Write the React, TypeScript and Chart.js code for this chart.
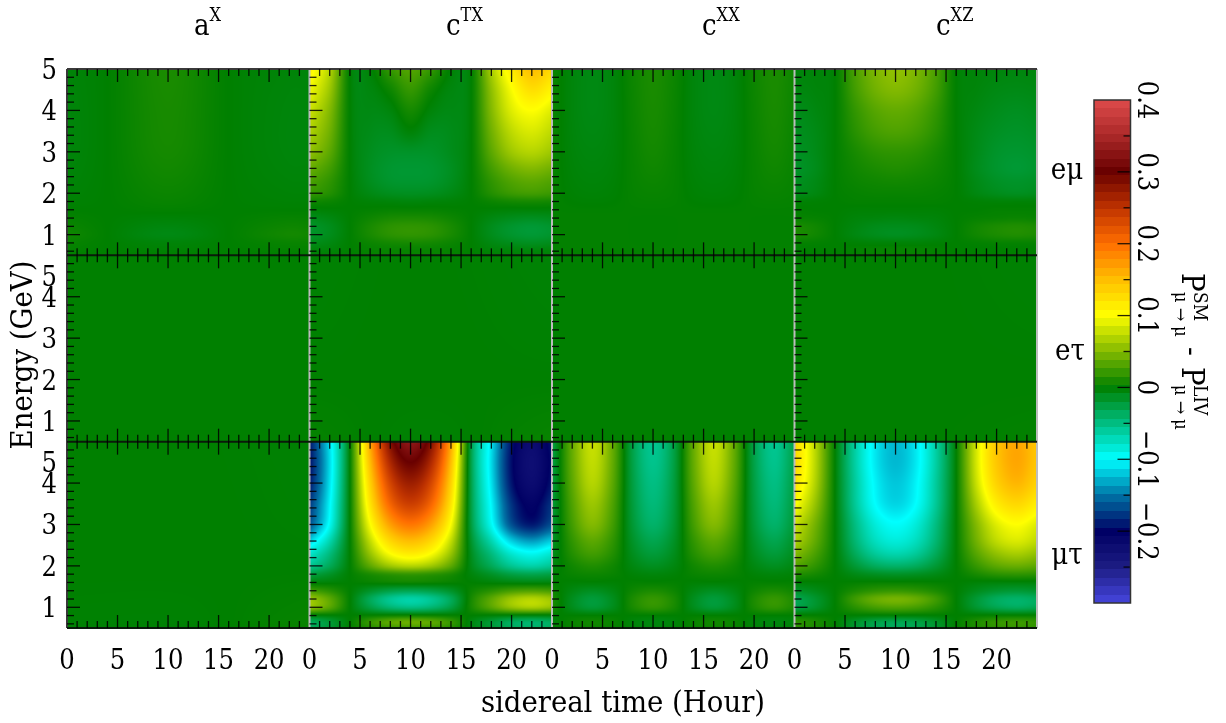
import React, { useEffect, useRef } from "react";
import { Chart, registerables } from "chart.js";

Chart.register(...registerables);

const FONT = '"DejaVu Serif Condensed", "DejaVu Serif", serif';

const COLUMN_TITLES = [["a", "X"], ["c", "TX"], ["c", "XX"], ["c", "XZ"]];
const ROW_TITLES = ["eμ", "eτ", "μτ"];
const X_MAJOR = [5, 10, 15, 20];
const X_LABELS = [0, 5, 10, 15, 20];
const X_MINOR = [1, 2, 3, 4, 6, 7, 8, 9, 11, 12, 13, 14, 16, 17, 18, 19, 21, 22, 23];
const Y_MAJOR = [1, 2, 3, 4];
const Y_MINOR = [0.6, 0.8, 1.2, 1.4, 1.6, 1.8, 2.2, 2.4, 2.6, 2.8, 3.2, 3.4, 3.6, 3.8, 4.2, 4.4, 4.6, 4.8];
const Y_LABELS_TOP = [1, 2, 3, 4, 5];
const Y_LABELS_LOWER = [1, 2, 3, 4, 4.5];

const TIME = [0, 2, 4, 6, 8, 10, 12, 14, 16, 18, 20, 22, 24];
const ENERGY = [0.5, 0.65, 0.8, 1, 1.2, 1.4, 1.6, 1.8, 2, 2.3, 2.6, 3, 3.5, 4, 4.5, 5];
const TIME_COARSE = [0, 4, 10, 16, 22, 24];
const ENERGY_COARSE = [0.5, 0.8, 1, 1.2, 1.6, 2, 3, 4, 5];
const ENERGY_XX = [0.5, 1.5, 2, 3, 4, 5];
const TIME_FLAT = [0, 12, 24];
const ENERGY_FLAT = [0.5, 2, 5];

const aX_emu = [
  [0, 0, 0, 0, 0, 0],
  [0.003, 0, -0.003, 0, 0.003, 0.003],
  [0.006, 0, -0.007, 0, 0.007, 0.006],
  [0.004, 0, -0.005, 0, 0.005, 0.004],
  [0, 0, 0.001, 0, 0, 0],
  [-0.002, 0, 0.004, 0, -0.002, -0.002],
  [-0.004, 0, 0.008, 0, -0.004, -0.004],
  [-0.004, 0, 0.009, 0, -0.004, -0.004],
  [-0.003, 0, 0.01, 0, -0.003, -0.003],
];
const cTX_emu = [
  [-0.002, -0.001, 0, 0.002, 0.003, 0.003, 0.003, 0.002, 0, -0.001, -0.002, -0.002, -0.002],
  [-0.004, -0.003, 0, 0.002, 0.003, 0.003, 0.003, 0.002, 0, -0.003, -0.004, -0.005, -0.004],
  [-0.01, -0.006, 0, 0.004, 0.007, 0.008, 0.007, 0.004, 0, -0.006, -0.01, -0.012, -0.01],
  [-0.016, -0.01, 0, 0.009, 0.016, 0.018, 0.016, 0.009, 0, -0.01, -0.017, -0.02, -0.017],
  [-0.016, -0.01, 0, 0.009, 0.016, 0.018, 0.016, 0.009, 0, -0.01, -0.017, -0.02, -0.017],
  [-0.01, -0.006, 0, 0.005, 0.009, 0.01, 0.009, 0.005, 0, -0.006, -0.01, -0.012, -0.01],
  [-0.002, -0.001, 0, 0.001, 0.002, 0.002, 0.002, 0.001, 0, -0.001, -0.002, -0.002, -0.002],
  [0.006, 0.004, 0, -0.002, -0.003, -0.004, -0.003, -0.002, 0, 0.004, 0.007, 0.008, 0.007],
  [0.02, 0.013, 0, -0.007, -0.011, -0.012, -0.011, -0.007, 0, 0.013, 0.022, 0.025, 0.022],
  [0.029, 0.018, 0, -0.011, -0.017, -0.018, -0.017, -0.011, 0, 0.018, 0.031, 0.036, 0.031],
  [0.04, 0.025, 0, -0.012, -0.018, -0.019, -0.018, -0.012, 0, 0.025, 0.043, 0.05, 0.043],
  [0.056, 0.035, 0, -0.011, -0.015, -0.015, -0.015, -0.01, 0, 0.035, 0.061, 0.07, 0.061],
  [0.068, 0.043, 0, -0.009, -0.01, -0.002, -0.01, -0.009, 0, 0.043, 0.074, 0.085, 0.074],
  [0.08, 0.05, 0, -0.007, -0.004, 0.008, -0.003, -0.007, 0, 0.05, 0.087, 0.1, 0.087],
  [0.095, 0.06, 0, -0.005, 0.005, 0.02, 0.005, -0.005, 0, 0.055, 0.098, 0.125, 0.108],
  [0.11, 0.07, 0, -0.002, 0.02, 0.032, 0.02, -0.001, 0, 0.065, 0.115, 0.15, 0.13],
];
const cXX_emu = [
  [0.001, 0.001, 0.001, 0.001, 0.001, 0.001, 0.001, 0.001, 0.001, 0.001, 0.001, 0.001, 0.001],
  [0.001, 0.001, 0.001, 0.001, 0.001, 0.001, 0.001, 0.001, 0.001, 0.001, 0.001, 0.001, 0.001],
  [0.002, -0.001, -0.002, -0.001, 0.002, 0.003, 0.002, -0.001, -0.002, -0.001, 0.002, 0.003, 0.002],
  [0.003, -0.003, -0.005, -0.003, 0.003, 0.007, 0.003, -0.003, -0.005, -0.003, 0.003, 0.007, 0.003],
  [0.004, -0.004, -0.007, -0.004, 0.004, 0.009, 0.004, -0.004, -0.007, -0.004, 0.004, 0.009, 0.004],
  [0.004, -0.004, -0.007, -0.004, 0.005, 0.01, 0.005, -0.004, -0.007, -0.004, 0.005, 0.01, 0.005],
];
const cXZ_emu = [
  [0, 0, 0, 0.001, 0.002, 0.002, 0.002, 0.001, 0, 0, 0, 0, 0],
  [0, 0, 0, 0.001, 0.002, 0.002, 0.002, 0.001, 0, 0, 0, 0, 0],
  [0.002, 0.001, 0, -0.001, -0.002, -0.002, -0.002, -0.001, 0, 0.001, 0.002, 0.002, 0.002],
  [0.01, 0.006, 0, -0.006, -0.01, -0.012, -0.01, -0.006, 0, 0.006, 0.01, 0.012, 0.01],
  [0.01, 0.006, 0, -0.005, -0.009, -0.01, -0.009, -0.005, 0, 0.006, 0.01, 0.012, 0.01],
  [0.003, 0.002, 0, -0.003, -0.004, -0.005, -0.004, -0.003, 0, 0.002, 0.003, 0.004, 0.003],
  [0.001, 0, 0, -0.001, -0.001, -0.001, -0.001, -0.001, 0, 0, 0.001, 0.001, 0.001],
  [-0.002, -0.001, 0, 0.001, 0.001, 0.001, 0.001, 0.001, 0, -0.001, -0.002, -0.002, -0.002],
  [-0.01, -0.006, 0, 0.002, 0.003, 0.003, 0.003, 0.002, 0, -0.006, -0.01, -0.012, -0.01],
  [-0.013, -0.008, 0, 0.004, 0.006, 0.007, 0.006, 0.004, 0, -0.008, -0.014, -0.016, -0.014],
  [-0.016, -0.01, 0, 0.006, 0.01, 0.012, 0.01, 0.006, 0, -0.01, -0.017, -0.02, -0.017],
  [-0.014, -0.009, 0, 0.009, 0.016, 0.018, 0.016, 0.009, 0, -0.009, -0.016, -0.018, -0.016],
  [-0.012, -0.008, 0, 0.015, 0.026, 0.03, 0.026, 0.015, 0, -0.008, -0.013, -0.015, -0.013],
  [-0.01, -0.006, 0, 0.019, 0.033, 0.038, 0.033, 0.019, 0, -0.006, -0.01, -0.012, -0.01],
  [-0.006, -0.004, 0, 0.025, 0.043, 0.05, 0.043, 0.025, 0, -0.004, -0.007, -0.008, -0.007],
  [-0.004, -0.003, 0, 0.028, 0.048, 0.056, 0.048, 0.028, 0, -0.003, -0.004, -0.005, -0.004],
];
const aX_etau = [[0, 0, 0], [0, 0, 0], [0, 0, 0]];
const cTX_etau = [[0.002, -0.001, 0.003], [0, 0, 0], [-0.001, 0, -0.002]];
const cXX_etau = [[0, 0, 0], [0, 0, 0], [0, 0, 0]];
const cXZ_etau = [[0, 0, 0.001], [0, 0, 0], [0, 0, -0.001]];
const aX_mutau = [[-0.001, -0.001, 0.003], [0, 0, 0], [0, 0, -0.001]];
const cTX_mutau = [
  [-0.035, -0.02, 0, 0.013, 0.022, 0.025, 0.022, 0.013, -0.005, -0.02, -0.035, -0.04, -0.035],
  [-0.035, -0.02, 0, 0.02, 0.035, 0.04, 0.035, 0.02, -0.005, -0.02, -0.035, -0.04, -0.035],
  [-0.004, -0.002, 0, 0.002, 0.004, 0.005, 0.004, 0.002, 0, -0.002, -0.004, -0.005, -0.004],
  [0.056, 0.033, 0, -0.025, -0.043, -0.05, -0.043, -0.025, 0.008, 0.033, 0.056, 0.065, 0.056],
  [0.06, 0.035, 0, -0.033, -0.056, -0.065, -0.056, -0.033, 0.008, 0.035, 0.06, 0.07, 0.06],
  [0.026, 0.015, 0, -0.015, -0.026, -0.03, -0.026, -0.015, 0.004, 0.015, 0.026, 0.03, 0.026],
  [-0.004, -0.002, 0, 0.002, 0.004, 0.005, 0.004, 0.002, 0, -0.002, -0.004, -0.005, -0.004],
  [-0.026, -0.015, 0, 0.01, 0.017, 0.02, 0.017, 0.01, -0.004, -0.015, -0.026, -0.03, -0.026],
  [-0.056, -0.033, 0, 0.035, 0.061, 0.07, 0.061, 0.035, -0.008, -0.033, -0.056, -0.065, -0.056],
  [-0.082, -0.048, 0, 0.058, 0.1, 0.115, 0.1, 0.058, -0.011, -0.048, -0.082, -0.095, -0.082],
  [-0.117, -0.068, 0, 0.075, 0.13, 0.15, 0.13, 0.075, -0.016, -0.068, -0.117, -0.135, -0.117],
  [-0.165, -0.095, 0, 0.098, 0.169, 0.195, 0.169, 0.098, -0.023, -0.095, -0.165, -0.19, -0.165],
  [-0.178, -0.103, 0, 0.12, 0.208, 0.24, 0.208, 0.12, -0.025, -0.103, -0.178, -0.205, -0.178],
  [-0.191, -0.11, 0, 0.135, 0.234, 0.27, 0.234, 0.135, -0.026, -0.11, -0.191, -0.22, -0.191],
  [-0.195, -0.113, 0, 0.15, 0.26, 0.3, 0.26, 0.15, -0.027, -0.113, -0.195, -0.225, -0.195],
  [-0.191, -0.11, 0, 0.165, 0.286, 0.33, 0.286, 0.165, -0.026, -0.11, -0.191, -0.22, -0.191],
];
const cXX_mutau = [
  [-0.002, 0.002, 0.004, 0.002, -0.002, -0.004, -0.002, 0.002, 0.004, 0.002, -0.002, -0.004, -0.002],
  [-0.003, 0.003, 0.006, 0.003, -0.003, -0.005, -0.003, 0.003, 0.006, 0.003, -0.003, -0.005, -0.003],
  [0, 0, 0, 0, 0, 0, 0, 0, 0, 0, 0, 0, 0],
  [0.009, -0.01, -0.02, -0.01, 0.009, 0.018, 0.009, -0.01, -0.02, -0.01, 0.009, 0.018, 0.009],
  [0.01, -0.011, -0.022, -0.011, 0.01, 0.02, 0.01, -0.011, -0.022, -0.011, 0.01, 0.02, 0.01],
  [0.005, -0.006, -0.012, -0.006, 0.005, 0.01, 0.005, -0.006, -0.012, -0.006, 0.005, 0.01, 0.005],
  [0.001, -0.001, -0.001, -0.001, 0.001, 0.001, 0.001, -0.001, -0.001, -0.001, 0.001, 0.001, 0.001],
  [-0.002, 0.003, 0.005, 0.003, -0.002, -0.004, -0.002, 0.003, 0.005, 0.003, -0.002, -0.004, -0.002],
  [-0.006, 0.006, 0.012, 0.006, -0.006, -0.012, -0.006, 0.006, 0.012, 0.006, -0.006, -0.012, -0.006],
  [-0.011, 0.013, 0.025, 0.013, -0.011, -0.022, -0.011, 0.013, 0.025, 0.013, -0.011, -0.022, -0.011],
  [-0.015, 0.018, 0.035, 0.018, -0.015, -0.03, -0.015, 0.018, 0.035, 0.018, -0.015, -0.03, -0.015],
  [-0.02, 0.025, 0.05, 0.025, -0.02, -0.04, -0.02, 0.025, 0.05, 0.025, -0.02, -0.04, -0.02],
  [-0.023, 0.03, 0.06, 0.03, -0.023, -0.046, -0.023, 0.03, 0.06, 0.03, -0.023, -0.046, -0.023],
  [-0.025, 0.035, 0.07, 0.035, -0.025, -0.05, -0.025, 0.035, 0.07, 0.035, -0.025, -0.05, -0.025],
  [-0.027, 0.038, 0.075, 0.038, -0.027, -0.054, -0.027, 0.038, 0.075, 0.038, -0.027, -0.054, -0.027],
  [-0.028, 0.039, 0.078, 0.039, -0.028, -0.056, -0.028, 0.039, 0.078, 0.039, -0.028, -0.056, -0.028],
];
const cXZ_mutau = [
  [0.016, 0.009, 0, -0.018, -0.03, -0.035, -0.03, -0.018, 0, 0.01, 0.017, 0.02, 0.017],
  [0.018, 0.01, 0, -0.015, -0.026, -0.03, -0.026, -0.015, 0, 0.011, 0.019, 0.022, 0.019],
  [0.002, 0.001, 0, -0.001, -0.002, -0.002, -0.002, -0.001, 0, 0.001, 0.002, 0.002, 0.002],
  [-0.028, -0.016, 0, 0.015, 0.026, 0.03, 0.026, 0.015, 0, -0.018, -0.03, -0.035, -0.03],
  [-0.032, -0.018, 0, 0.023, 0.039, 0.045, 0.039, 0.023, 0, -0.02, -0.035, -0.04, -0.035],
  [-0.016, -0.009, 0, 0.01, 0.017, 0.02, 0.017, 0.01, 0, -0.01, -0.017, -0.02, -0.017],
  [-0.002, -0.001, 0, 0.001, 0.002, 0.002, 0.002, 0.001, 0, -0.002, -0.003, -0.003, -0.003],
  [0.014, 0.008, 0, -0.008, -0.013, -0.015, -0.013, -0.008, 0, 0.009, 0.016, 0.018, 0.016],
  [0.032, 0.018, 0, -0.02, -0.035, -0.04, -0.035, -0.02, 0, 0.02, 0.035, 0.04, 0.035],
  [0.052, 0.029, 0, -0.034, -0.059, -0.068, -0.059, -0.034, 0, 0.033, 0.056, 0.065, 0.056],
  [0.068, 0.038, 0, -0.043, -0.074, -0.085, -0.074, -0.043, 0, 0.043, 0.074, 0.085, 0.074],
  [0.08, 0.045, 0, -0.049, -0.085, -0.098, -0.085, -0.049, 0, 0.05, 0.087, 0.1, 0.087],
  [0.104, 0.059, 0, -0.058, -0.1, -0.115, -0.1, -0.058, 0, 0.065, 0.113, 0.13, 0.113],
  [0.124, 0.07, 0, -0.06, -0.104, -0.12, -0.104, -0.06, 0, 0.078, 0.134, 0.155, 0.134],
  [0.132, 0.074, 0, -0.063, -0.108, -0.125, -0.108, -0.063, 0, 0.083, 0.143, 0.165, 0.143],
  [0.132, 0.074, 0, -0.063, -0.108, -0.125, -0.108, -0.063, 0, 0.083, 0.143, 0.165, 0.143],
];

const PANELS = [
  { col: 0, row: 0, t: TIME_COARSE, e: ENERGY_COARSE, z: aX_emu },
  { col: 1, row: 0, t: TIME, e: ENERGY, z: cTX_emu },
  { col: 2, row: 0, t: TIME, e: ENERGY_XX, z: cXX_emu },
  { col: 3, row: 0, t: TIME, e: ENERGY, z: cXZ_emu },
  { col: 0, row: 1, t: TIME_FLAT, e: ENERGY_FLAT, z: aX_etau },
  { col: 1, row: 1, t: TIME_FLAT, e: ENERGY_FLAT, z: cTX_etau },
  { col: 2, row: 1, t: TIME_FLAT, e: ENERGY_FLAT, z: cXX_etau },
  { col: 3, row: 1, t: TIME_FLAT, e: ENERGY_FLAT, z: cXZ_etau },
  { col: 0, row: 2, t: TIME_FLAT, e: ENERGY_FLAT, z: aX_mutau },
  { col: 1, row: 2, t: TIME, e: ENERGY, z: cTX_mutau },
  { col: 2, row: 2, t: TIME, e: ENERGY, z: cXX_mutau },
  { col: 3, row: 2, t: TIME, e: ENERGY, z: cXZ_mutau },
];

const COLOR_VALUES = [-0.3, -0.25, -0.2, -0.15, -0.1, -0.05, 0, 0.05, 0.1, 0.15, 0.2, 0.25, 0.3, 0.35, 0.4];
const COLOR_RGB = [
  [70, 70, 222], [28, 28, 130], [0, 0, 100], [0, 115, 165], [0, 255, 255], [0, 190, 130], [0, 128, 0],
  [130, 185, 0], [255, 255, 0], [255, 190, 0], [255, 110, 0], [190, 50, 0], [105, 0, 0], [170, 40, 40], [222, 75, 75],
];
const BAR_MAJOR = [-0.2, -0.1, 0, 0.1, 0.2, 0.3];
const BAR_MINOR = [-0.25, -0.15, -0.05, 0.05, 0.15, 0.25, 0.35];
const BAR_LABELS = [
  ["0.4", 0.4], ["0.3", 0.3], ["0.2", 0.2], ["0.1", 0.1], ["0", 0], ["−0.1", -0.1], ["−0.2", -0.2],
] as [string, number][];
const BAR_LEVELS = 60;

function colorAt(v: number): number[] {
  const vs = COLOR_VALUES;
  if (v <= vs[0]) return COLOR_RGB[0];
  for (let i = 1; i < vs.length; i++) {
    if (v <= vs[i]) {
      const f = (v - vs[i - 1]) / (vs[i] - vs[i - 1]);
      const a = COLOR_RGB[i - 1];
      const b = COLOR_RGB[i];
      return [a[0] + (b[0] - a[0]) * f, a[1] + (b[1] - a[1]) * f, a[2] + (b[2] - a[2]) * f];
    }
  }
  return COLOR_RGB[COLOR_RGB.length - 1];
}

// Smooth shading between the grid values (rendering only).
function hermite(xs: number[], ys: number[], x: number): number {
  const n = xs.length;
  let i = 0;
  while (i < n - 2 && x > xs[i + 1]) i++;
  const h = xs[i + 1] - xs[i];
  const s = Math.max(0, Math.min(1, (x - xs[i]) / h));
  const slope = (k: number) => {
    const a = Math.max(0, k - 1);
    const b = Math.min(n - 1, k + 1);
    return (ys[b] - ys[a]) / (xs[b] - xs[a]);
  };
  const m0 = slope(i) * h;
  const m1 = slope(i + 1) * h;
  const s2 = s * s;
  const s3 = s2 * s;
  return (2 * s3 - 3 * s2 + 1) * ys[i] + (s3 - 2 * s2 + s) * m0 + (-2 * s3 + 3 * s2) * ys[i + 1] + (s3 - s2) * m1;
}

const heatmapPlugin = {
  id: "heatmap",
  beforeDatasetsDraw(chart: any) {
    const ctx = chart.ctx;
    chart.data.datasets.forEach((ds: any) => {
      const xs = chart.scales[ds.xAxisID];
      const ys = chart.scales[ds.yAxisID];
      const tAxis: number[] = ds.tAxis;
      const eAxis: number[] = ds.eAxis;
      const lookup = new Map<string, number>();
      ds.data.forEach((p: any) => lookup.set(p.x + "|" + p.y, p.v));
      const x0 = Math.round(xs.left);
      const x1 = Math.round(xs.right);
      const y0 = Math.round(ys.top);
      const y1 = Math.round(ys.bottom);
      const w = x1 - x0;
      const h = y1 - y0;
      const img = ctx.createImageData(w, h);
      const cols = tAxis.map((t) => eAxis.map((e) => lookup.get(t + "|" + e) as number));
      for (let py = 0; py < h; py++) {
        const e = ys.getValueForPixel(y0 + py + 0.5);
        const atE = cols.map((c) => hermite(eAxis, c, e));
        for (let px = 0; px < w; px++) {
          const t = xs.getValueForPixel(x0 + px + 0.5);
          const c = colorAt(hermite(tAxis, atE, t));
          const o = (py * w + px) * 4;
          img.data[o] = c[0];
          img.data[o + 1] = c[1];
          img.data[o + 2] = c[2];
          img.data[o + 3] = 255;
        }
      }
      ctx.putImageData(img, x0, y0);
    });
  },
  afterDatasetsDraw(chart: any) {
    const ctx = chart.ctx;
    const s = chart.scales;
    const xAxes = [s.x0, s.x1, s.x2, s.x3];
    const yAxes = [s.y0, s.y1, s.y2];
    const line = (a: number, b: number, c: number, d: number) => {
      ctx.beginPath();
      ctx.moveTo(a, b);
      ctx.lineTo(c, d);
      ctx.stroke();
    };
    ctx.save();
    // frame lines between the panels
    ctx.strokeStyle = "#bdbdbd";
    ctx.lineWidth = 2;
    [xAxes[1].left, xAxes[2].left, xAxes[3].left, xAxes[3].right].forEach((x: number) =>
      line(x, yAxes[0].top, x, yAxes[2].bottom)
    );
    ctx.strokeStyle = "#3a3a3a";
    line(xAxes[0].left, yAxes[0].top, xAxes[0].left, yAxes[2].bottom);
    line(xAxes[0].left, yAxes[0].top, xAxes[3].right, yAxes[0].top);
    ctx.strokeStyle = "#0a1a0a";
    line(xAxes[0].left, yAxes[0].bottom, xAxes[3].right, yAxes[0].bottom);
    line(xAxes[0].left, yAxes[1].bottom, xAxes[3].right, yAxes[1].bottom);
    line(xAxes[0].left, yAxes[2].bottom, xAxes[3].right, yAxes[2].bottom);
    // inward ticks
    ctx.strokeStyle = "rgba(0,0,0,0.85)";
    ctx.lineWidth = 1.3;
    xAxes.forEach((xa: any) => {
      yAxes.forEach((ya: any) => {
        X_MAJOR.forEach((v) => {
          const p = xa.getPixelForValue(v);
          line(p, ya.top, p, ya.top + 13);
          line(p, ya.bottom, p, ya.bottom - 13);
        });
        X_MINOR.forEach((v) => {
          const p = xa.getPixelForValue(v);
          line(p, ya.top, p, ya.top + 7);
          line(p, ya.bottom, p, ya.bottom - 7);
        });
        Y_MAJOR.forEach((v) => {
          const p = ya.getPixelForValue(v);
          line(xa.left, p, xa.left + 13, p);
        });
        Y_MINOR.forEach((v) => {
          const p = ya.getPixelForValue(v);
          line(xa.left, p, xa.left + 7, p);
        });
      });
    });
    ctx.restore();

    // titles
    ctx.save();
    ctx.fillStyle = "#000";
    ctx.textBaseline = "alphabetic";
    ctx.textAlign = "left";
    const titleX = [194, 446, 702, 936];
    COLUMN_TITLES.forEach(([base, sup], i) => {
      ctx.font = `29px ${FONT}`;
      ctx.fillText(base, titleX[i], 35);
      const bw = ctx.measureText(base).width;
      ctx.font = `18px ${FONT}`;
      ctx.fillText(sup, titleX[i] + bw, 21);
    });
    ctx.font = `29px ${FONT}`;
    ctx.textAlign = "center";
    const rowCentersX = [1067, 1070, 1067];
    ROW_TITLES.forEach((t, i) => {
      ctx.fillText(t, rowCentersX[i], [179, 360, 564][i]);
    });
    ctx.font = `30.6px ${FONT}`;
    ctx.fillText("sidereal time (Hour)", 623, 712);
    ctx.translate(32, 355);
    ctx.rotate(-Math.PI / 2);
    ctx.fillText("Energy (GeV)", 0, 0);
    ctx.restore();
  },
};

const colorbarPlugin = {
  id: "colorbar",
  beforeDatasetsDraw(chart: any) {
    const ctx = chart.ctx;
    const y = chart.scales.y;
    const { left, right } = chart.chartArea;
    const span = y.max - y.min;
    for (let p = Math.round(y.top); p < Math.round(y.bottom); p++) {
      const v = y.getValueForPixel(p + 0.5);
      const level = Math.min(BAR_LEVELS - 1, Math.floor(((v - y.min) / span) * BAR_LEVELS));
      const c = colorAt(y.min + ((level + 0.5) / BAR_LEVELS) * span);
      ctx.fillStyle = `rgb(${c[0]},${c[1]},${c[2]})`;
      ctx.fillRect(left, p, right - left, 1);
    }
  },
  afterDatasetsDraw(chart: any) {
    const ctx = chart.ctx;
    const y = chart.scales.y;
    const { left, right, top, bottom } = chart.chartArea;
    ctx.save();
    ctx.strokeStyle = "rgba(0,0,0,0.85)";
    ctx.lineWidth = 1.3;
    BAR_MAJOR.forEach((v) => {
      const p = y.getPixelForValue(v);
      ctx.beginPath();
      ctx.moveTo(right, p);
      ctx.lineTo(right - 13, p);
      ctx.stroke();
    });
    BAR_MINOR.forEach((v) => {
      const p = y.getPixelForValue(v);
      ctx.beginPath();
      ctx.moveTo(right, p);
      ctx.lineTo(right - 7, p);
      ctx.stroke();
    });
    ctx.strokeStyle = "#333";
    ctx.lineWidth = 1.5;
    ctx.strokeRect(left, top, right - left, bottom - top);
    ctx.fillStyle = "#000";
    ctx.font = `27px ${FONT}`;
    ctx.textAlign = "center";
    ctx.textBaseline = "alphabetic";
    BAR_LABELS.forEach(([label, v]) => {
      ctx.save();
      ctx.translate(right + 7, y.getPixelForValue(v));
      ctx.rotate(Math.PI / 2);
      ctx.fillText(label, 0, 0);
      ctx.restore();
    });
    // rotated colour-bar title: P^SM_(mu->mu) - P^LIV_(mu->mu)
    const baseX = 1182 - 1040;
    const put = (text: string, u: number, v: number, size: number) => {
      ctx.save();
      ctx.translate(baseX, u);
      ctx.rotate(Math.PI / 2);
      ctx.font = `${size}px ${FONT}`;
      ctx.textAlign = "left";
      ctx.fillText(text, 0, v);
      ctx.restore();
    };
    put("P", 273, 0, 31);
    put("SM", 292, -12, 19);
    put("μ → μ", 292, 7, 18);
    put("-", 347, 0, 29);
    put("P", 367, 0, 31);
    put("LIV", 385, -12, 19);
    put("μ → μ", 385, 7, 18);
    ctx.restore();
  },
};

export default function App() {
  const mainRef = useRef<HTMLCanvasElement>(null);
  const barRef = useRef<HTMLCanvasElement>(null);

  useEffect(() => {
    const xScale = (i: number) => ({
      type: "linear",
      axis: "x",
      position: "bottom",
      stack: "columns",
      stackWeight: 1,
      min: 0,
      max: 24,
      grid: { display: false },
      border: { display: false },
      afterBuildTicks: (scale: any) => {
        scale.ticks = X_LABELS.map((value) => ({ value }));
      },
      afterFit: (scale: any) => {
        scale.height = 95;
      },
      ticks: {
        autoSkip: false,
        maxRotation: 0,
        padding: 10,
        color: "#000",
        font: { family: FONT, size: 27 },
      },
    });
    const yScale = (i: number) => ({
      type: "linear",
      axis: "y",
      position: "left",
      stack: "rows",
      stackWeight: 1,
      min: 0.5,
      max: 5,
      grid: { display: false },
      border: { display: false },
      afterBuildTicks: (scale: any) => {
        scale.ticks = (i === 0 ? Y_LABELS_TOP : Y_LABELS_LOWER).map((value) => ({ value }));
      },
      afterFit: (scale: any) => {
        scale.width = 67;
      },
      ticks: {
        autoSkip: false,
        padding: 2,
        labelOffset: 3,
        color: "#000",
        font: { family: FONT, size: 27 },
        callback: (v: number) => (v === 4.5 ? "5" : String(v)),
      },
    });
    const main = new Chart(mainRef.current!, {
      type: "scatter",
      data: {
        datasets: PANELS.map((p) => {
          const data: any[] = [];
          p.e.forEach((e, r) => p.t.forEach((t, c) => data.push({ x: t, y: e, v: p.z[r][c] })));
          return {
            data,
            xAxisID: "x" + p.col,
            yAxisID: "y" + p.row,
            tAxis: p.t,
            eAxis: p.e,
            pointRadius: 0,
            showLine: false,
          } as any;
        }),
      },
      options: {
        animation: false,
        responsive: false,
        devicePixelRatio: 1,
        layout: { padding: { left: 0, right: 189, top: 69, bottom: 0 } },
        plugins: { legend: { display: false }, tooltip: { enabled: false } },
        events: [],
        scales: {
          x0: xScale(0),
          x1: xScale(1),
          x2: xScale(2),
          x3: xScale(3),
          y2: yScale(2),
          y1: yScale(1),
          y0: yScale(0),
        } as any,
      },
      plugins: [heatmapPlugin],
    });
    const bar = new Chart(barRef.current!, {
      type: "scatter",
      data: {
        datasets: [
          { data: COLOR_VALUES.map((y) => ({ x: 0, y })), pointRadius: 0, showLine: false },
        ],
      },
      options: {
        animation: false,
        responsive: false,
        devicePixelRatio: 1,
        layout: { padding: { left: 54, right: 95.5, top: 100, bottom: 120 } },
        plugins: { legend: { display: false }, tooltip: { enabled: false } },
        events: [],
        scales: {
          x: { type: "linear", min: 0, max: 1, display: false },
          y: { type: "linear", min: -0.3, max: 0.4, display: false },
        },
      },
      plugins: [colorbarPlugin],
    });
    return () => {
      main.destroy();
      bar.destroy();
    };
  }, []);

  return (
    <div style={{ position: "absolute", left: 0, top: 0, width: 1226, height: 723, overflow: "hidden", background: "#fff" }}>
      <canvas ref={mainRef} width={1226} height={723} style={{ position: "absolute", left: 0, top: 0, display: "block" }} />
      <canvas ref={barRef} width={186} height={723} style={{ position: "absolute", left: 1040, top: 0, display: "block" }} />
    </div>
  );
}
